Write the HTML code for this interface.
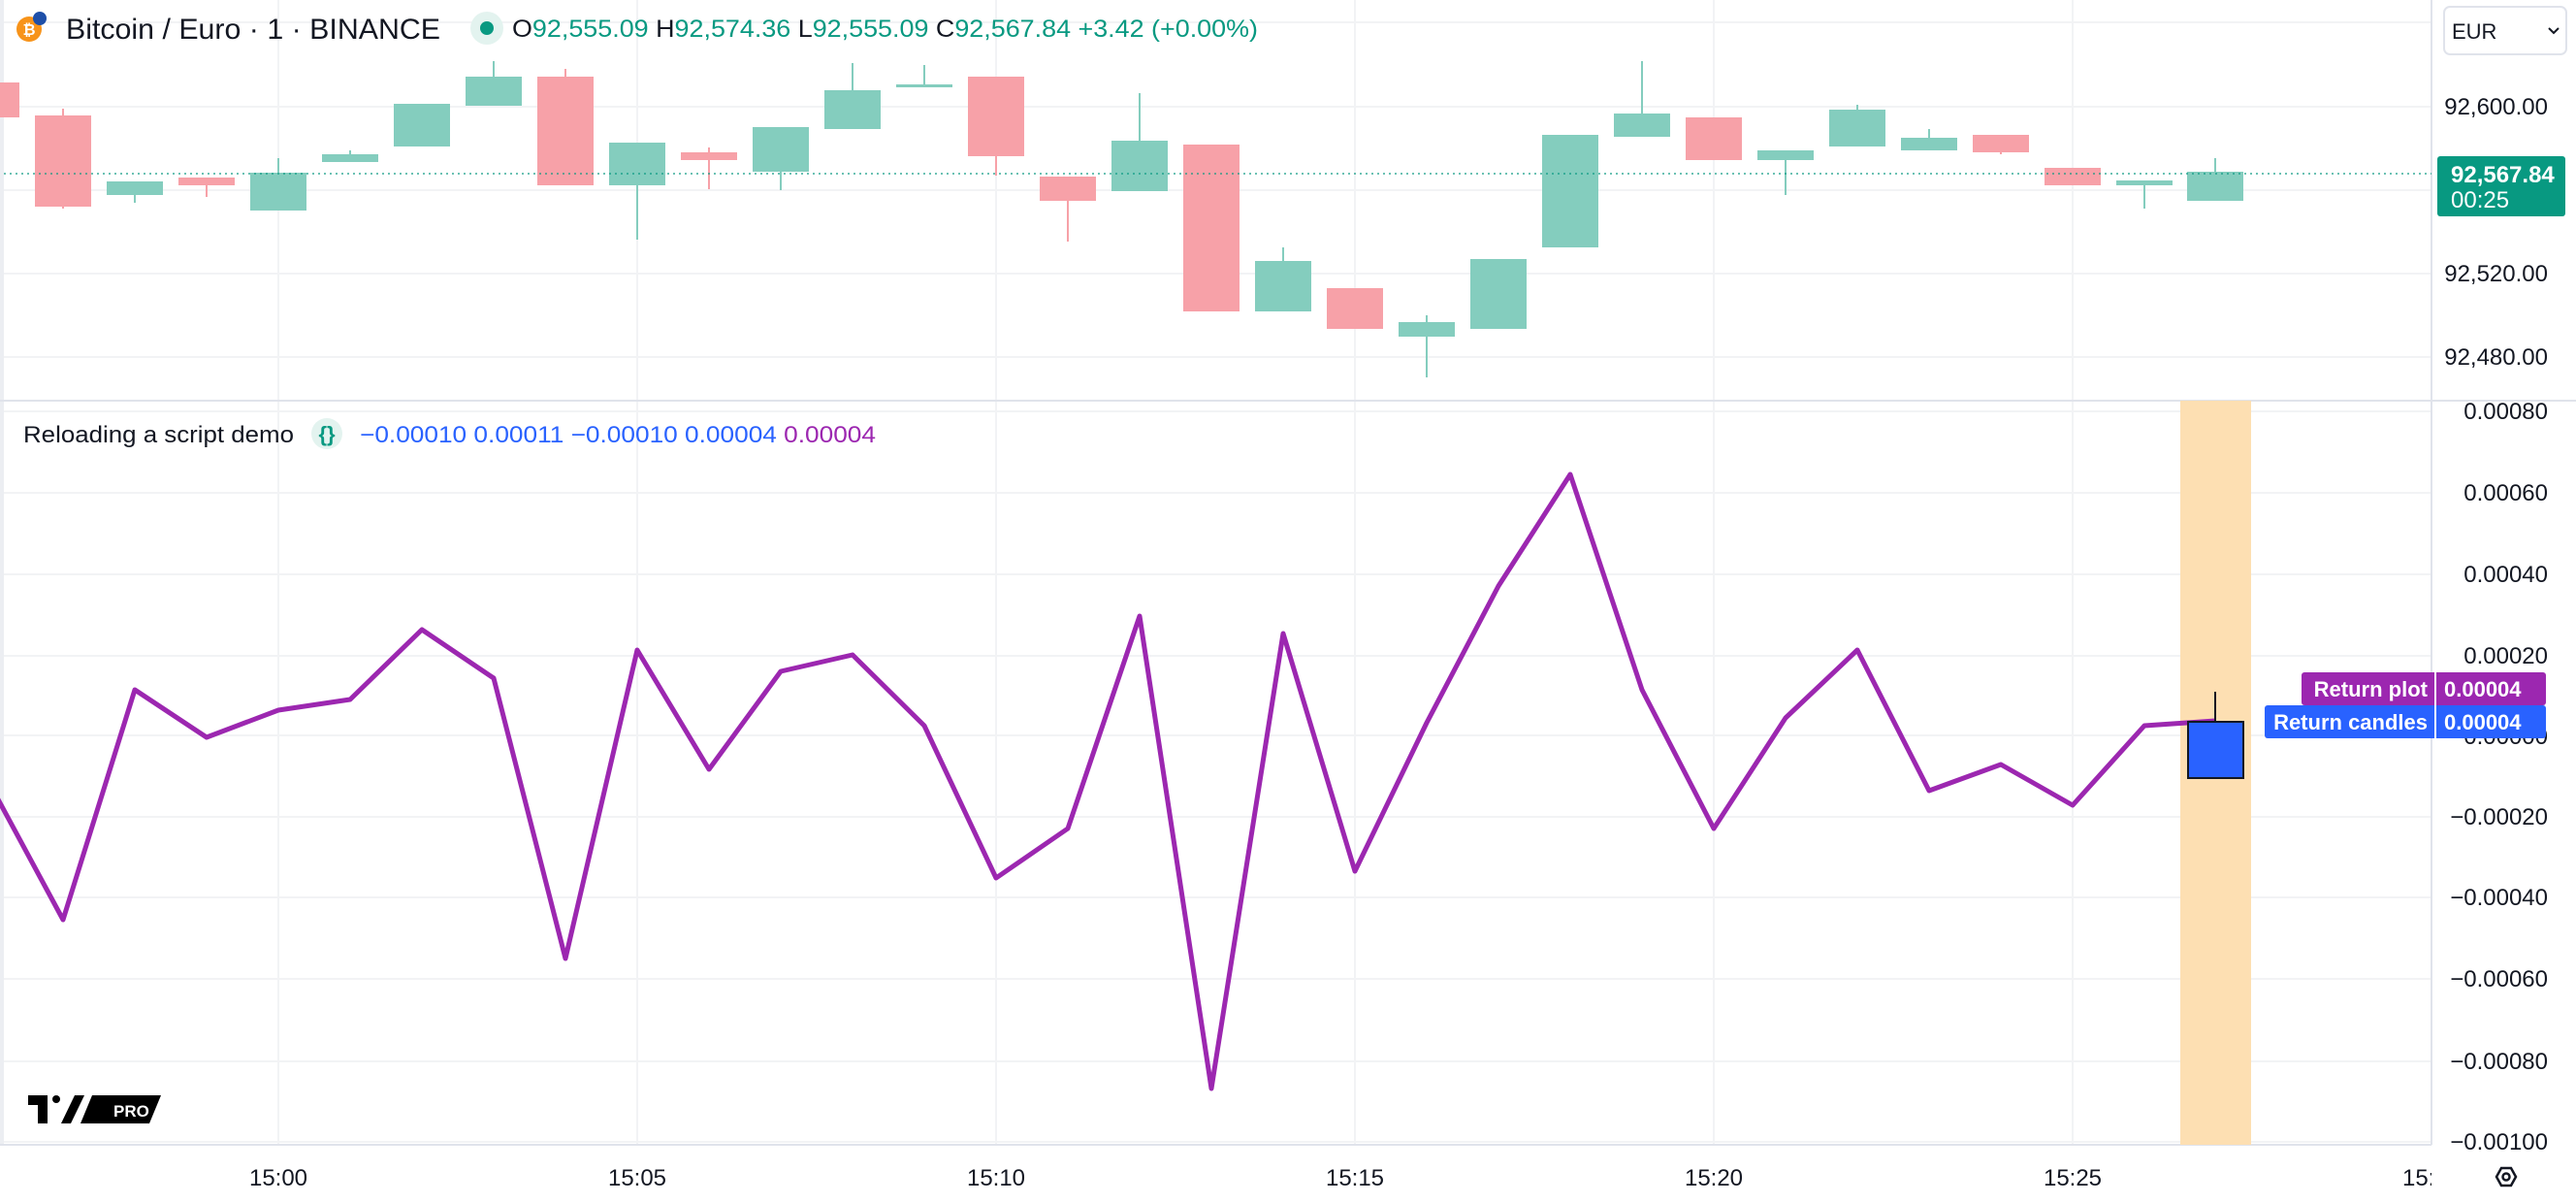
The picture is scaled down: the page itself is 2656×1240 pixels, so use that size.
<!DOCTYPE html>
<html><head><meta charset="utf-8"><style>
html,body{margin:0;padding:0;background:#fff;}
svg{display:block;font-family:"Liberation Sans",sans-serif;}
</style></head><body>
<svg width="2656" height="1240" viewBox="0 0 2656 1240" xmlns="http://www.w3.org/2000/svg">
<rect width="2656" height="1240" fill="#fff"/>
<!-- left border -->
<rect x="0" y="0" width="4" height="1180" fill="#eceef2"/>
<!-- grid top -->
<g stroke="#f2f3f5" stroke-width="2">
<line x1="4" y1="23" x2="2507" y2="23"/><line x1="4" y1="110" x2="2507" y2="110"/><line x1="4" y1="196" x2="2507" y2="196"/><line x1="4" y1="282" x2="2507" y2="282"/><line x1="4" y1="368" x2="2507" y2="368"/>
<line x1="4" y1="424" x2="2507" y2="424"/><line x1="4" y1="508" x2="2507" y2="508"/><line x1="4" y1="592" x2="2507" y2="592"/><line x1="4" y1="676" x2="2507" y2="676"/><line x1="4" y1="758" x2="2507" y2="758"/><line x1="4" y1="842" x2="2507" y2="842"/><line x1="4" y1="925" x2="2507" y2="925"/><line x1="4" y1="1009" x2="2507" y2="1009"/><line x1="4" y1="1094" x2="2507" y2="1094"/><line x1="4" y1="1177" x2="2507" y2="1177"/>
<line x1="287" y1="0" x2="287" y2="1180"/><line x1="657" y1="0" x2="657" y2="1180"/><line x1="1027" y1="0" x2="1027" y2="1180"/><line x1="1397" y1="0" x2="1397" y2="1180"/><line x1="1767" y1="0" x2="1767" y2="1180"/><line x1="2137" y1="0" x2="2137" y2="1180"/>
</g>
<!-- pane divider -->
<line x1="0" y1="413" x2="2656" y2="413" stroke="#e0e3eb" stroke-width="2"/>
<line x1="2507" y1="0" x2="2507" y2="1180" stroke="#e0e3eb" stroke-width="2"/>
<line x1="0" y1="1180" x2="2507" y2="1180" stroke="#e0e3eb" stroke-width="2"/>
<!-- orange band -->
<rect x="2248" y="413" width="73" height="767" fill="#fddfb2"/>
<!-- candles -->
<g stroke-width="2">
<g fill="#f7a1a8" stroke="#f7a1a8">
<rect x="-38" y="85" width="58" height="36" stroke="none"/>
<line x1="65" y1="112" x2="65" y2="215"/><rect x="36" y="119" width="58" height="94" stroke="none"/>
<line x1="213" y1="183" x2="213" y2="203"/><rect x="184" y="183" width="58" height="8" stroke="none"/>
<line x1="583" y1="71" x2="583" y2="191"/><rect x="554" y="79" width="58" height="112" stroke="none"/>
<line x1="731" y1="152" x2="731" y2="195"/><rect x="702" y="157" width="58" height="8" stroke="none"/>
<line x1="1027" y1="79" x2="1027" y2="181"/><rect x="998" y="79" width="58" height="82" stroke="none"/>
<line x1="1101" y1="182" x2="1101" y2="249"/><rect x="1072" y="182" width="58" height="25" stroke="none"/>
<rect x="1220" y="149" width="58" height="172" stroke="none"/>
<rect x="1368" y="297" width="58" height="42" stroke="none"/>
<rect x="1738" y="121" width="58" height="44" stroke="none"/>
<line x1="2063" y1="139" x2="2063" y2="159"/><rect x="2034" y="139" width="58" height="18" stroke="none"/>
<rect x="2108" y="173" width="58" height="18" stroke="none"/>
</g>
<g fill="#84cdbe" stroke="#84cdbe">
<line x1="139" y1="187" x2="139" y2="209"/><rect x="110" y="187" width="58" height="14" stroke="none"/>
<line x1="287" y1="163" x2="287" y2="217"/><rect x="258" y="178" width="58" height="39" stroke="none"/>
<line x1="361" y1="155" x2="361" y2="167"/><rect x="332" y="159" width="58" height="8" stroke="none"/>
<rect x="406" y="107" width="58" height="44" stroke="none"/>
<line x1="509" y1="63" x2="509" y2="109"/><rect x="480" y="79" width="58" height="30" stroke="none"/>
<line x1="657" y1="147" x2="657" y2="247"/><rect x="628" y="147" width="58" height="44" stroke="none"/>
<line x1="805" y1="131" x2="805" y2="196"/><rect x="776" y="131" width="58" height="46" stroke="none"/>
<line x1="879" y1="65" x2="879" y2="133"/><rect x="850" y="93" width="58" height="40" stroke="none"/>
<line x1="953" y1="67" x2="953" y2="89"/><rect x="924" y="87" width="58" height="3" stroke="none"/>
<line x1="1175" y1="96" x2="1175" y2="197"/><rect x="1146" y="145" width="58" height="52" stroke="none"/>
<line x1="1323" y1="255" x2="1323" y2="321"/><rect x="1294" y="269" width="58" height="52" stroke="none"/>
<line x1="1471" y1="325" x2="1471" y2="389"/><rect x="1442" y="332" width="58" height="15" stroke="none"/>
<rect x="1516" y="267" width="58" height="72" stroke="none"/>
<rect x="1590" y="139" width="58" height="116" stroke="none"/>
<line x1="1693" y1="63" x2="1693" y2="141"/><rect x="1664" y="117" width="58" height="24" stroke="none"/>
<line x1="1841" y1="155" x2="1841" y2="201"/><rect x="1812" y="155" width="58" height="10" stroke="none"/>
<line x1="1915" y1="108" x2="1915" y2="151"/><rect x="1886" y="113" width="58" height="38" stroke="none"/>
<line x1="1989" y1="133" x2="1989" y2="155"/><rect x="1960" y="142" width="58" height="13" stroke="none"/>
<line x1="2211" y1="186" x2="2211" y2="215"/><rect x="2182" y="186" width="58" height="5" stroke="none"/>
<line x1="2284" y1="163" x2="2284" y2="207"/><rect x="2255" y="177" width="58" height="30" stroke="none"/>
</g>
</g>
<!-- current price line -->
<line x1="4" y1="179" x2="2507" y2="179" stroke="#089981" stroke-width="2" stroke-dasharray="2 4" opacity="0.6"/>
<!-- indicator line -->
<polyline fill="none" stroke="#9c27b0" stroke-width="5" stroke-linejoin="round" points="-9,811 65,948 139,711 213,760 287,732 361,721 435,649 509,699 583,988 657,670 731,793 805,692 879,675 953,748 1027,905 1101,854 1175,635 1249,1122 1323,653 1397,898 1471,745 1545,604 1619,489 1693,711 1767,854 1841,740 1915,670 1989,815 2063,788 2137,830 2211,748 2284,743"/>
<!-- blue candle -->
<line x1="2284" y1="713" x2="2284" y2="744" stroke="#131722" stroke-width="2"/>
<rect x="2256" y="744" width="57" height="58" fill="#2962ff" stroke="#131722" stroke-width="2"/>
<!-- header -->
<circle cx="30" cy="30" r="13" fill="#f7931a"/>
<text x="30" y="36" font-size="16" fill="#fff" text-anchor="middle" font-weight="bold">₿</text>
<circle cx="41" cy="19" r="7" fill="#1e4fa8"/>
<text x="68" y="40" font-size="30" fill="#131722" textLength="386" lengthAdjust="spacingAndGlyphs">Bitcoin / Euro · 1 · BINANCE</text>
<circle cx="502" cy="29" r="17" fill="#e3f3ef"/>
<circle cx="502" cy="29" r="7" fill="#089981"/>
<text x="528" y="38" font-size="25" fill="#089981" textLength="769" lengthAdjust="spacingAndGlyphs"><tspan fill="#131722">O</tspan>92,555.09 <tspan fill="#131722">H</tspan>92,574.36 <tspan fill="#131722">L</tspan>92,555.09 <tspan fill="#131722">C</tspan>92,567.84 +3.42 (+0.00%)</text>
<text x="24" y="456" font-size="24" fill="#131722" textLength="279" lengthAdjust="spacingAndGlyphs">Reloading a script demo</text>
<circle cx="337" cy="447" r="16" fill="#e3f3ef"/>
<text x="337" y="455" font-size="22" fill="#089981" text-anchor="middle" font-weight="bold">{}</text>
<text x="371" y="456" font-size="24" fill="#2962ff" textLength="532" lengthAdjust="spacingAndGlyphs">−0.00010 0.00011 −0.00010 0.00004 <tspan fill="#9c27b0">0.00004</tspan></text>
<!-- price axis -->
<rect x="2520" y="7" width="126" height="49" rx="6" fill="#fff" stroke="#e0e3eb" stroke-width="2"/>
<text x="2528" y="40" font-size="22" fill="#131722">EUR</text>
<path d="M2628 29 l5 5 l5 -5" fill="none" stroke="#131722" stroke-width="2"/>
<g font-size="24" fill="#131722" text-anchor="end">
<text x="2627" y="118">92,600.00</text>
<text x="2627" y="290">92,520.00</text>
<text x="2627" y="376">92,480.00</text>
<text x="2627" y="432">0.00080</text>
<text x="2627" y="516">0.00060</text>
<text x="2627" y="600">0.00040</text>
<text x="2627" y="684">0.00020</text>
<text x="2627" y="767">0.00000</text>
<text x="2627" y="850">−0.00020</text>
<text x="2627" y="933">−0.00040</text>
<text x="2627" y="1017">−0.00060</text>
<text x="2627" y="1102">−0.00080</text>
<text x="2627" y="1185">−0.00100</text>
</g>
<rect x="2513" y="161" width="132" height="62" rx="3" fill="#089981"/>
<text x="2527" y="188" font-size="24" fill="#fff" font-weight="bold">92,567.84</text>
<text x="2527" y="214" font-size="24" fill="#fff">00:25</text>
<rect x="2373" y="693" width="252" height="34" rx="3" fill="#9c27b0"/>
<rect x="2335" y="727" width="290" height="34" rx="3" fill="#2962ff"/>
<line x1="2511" y1="693" x2="2511" y2="761" stroke="#fff" stroke-width="2"/>
<g font-size="22" fill="#fff" font-weight="bold">
<text x="2503" y="718" text-anchor="end">Return plot</text>
<text x="2503" y="752" text-anchor="end">Return candles</text>
<text x="2520" y="718">0.00004</text>
<text x="2520" y="752">0.00004</text>
</g>
<!-- time axis -->
<g font-size="24" fill="#131722" text-anchor="middle">
<text x="287" y="1222">15:00</text><text x="657" y="1222">15:05</text><text x="1027" y="1222">15:10</text><text x="1397" y="1222">15:15</text><text x="1767" y="1222">15:20</text><text x="2137" y="1222">15:25</text>
</g>
<svg x="2470" y="1190" width="37" height="50"><text x="37" y="32" font-size="24" fill="#131722" text-anchor="middle">15:30</text></svg>
<!-- gear -->
<path d="M2574 1213 l5 -9 h10 l5 9 l-5 9 h-10 z" fill="none" stroke="#131722" stroke-width="2.5"/>
<circle cx="2584" cy="1213" r="3.5" fill="none" stroke="#131722" stroke-width="2.5"/>
<!-- TV logo -->
<g fill="#000">
<rect x="29" y="1129" width="20" height="10"/><rect x="39" y="1129" width="10" height="29"/>
<circle cx="58" cy="1133" r="4"/>
<path d="M63 1158 l14 -29 h10 l-14 29 z"/>
<path d="M95 1129 h71 l-12 29 h-71 z"/>
</g>
<text x="117" y="1151" font-size="17" fill="#fff" font-weight="bold">PRO</text>
</svg>
</body></html>
